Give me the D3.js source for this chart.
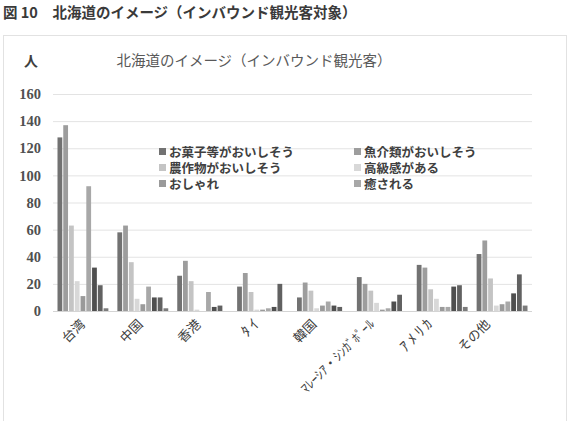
<!DOCTYPE html>
<html lang="ja">
  <head>
    <meta charset="UTF-8" />
    <title>北海道のイメージ</title>
    <style>
      body { margin: 0; background: #fff; }
      svg { display: block; }
    </style>
  </head>
  <body>
    <div id="wrapper"></div>
    <script src="https://d3js.org/d3.v7.min.js"></script>
    <script>
      // categories (x axis)
      const regions = ["台湾", "中国", "香港", "ﾀ ｲ", "韓国", "ﾏﾚｰｼｱ・ｼﾝｶﾞﾎﾟｰﾙ", "ｱ ﾒ ﾘ ｶ", "その他"];
      // legend labels (only six are shown in the original legend)
      const legendLabels = ["お菓子等がおいしそう", "魚介類がおいしそう", "農作物がおいしそう", "高級感がある", "おしゃれ", "癒される"];
      // series values, one array per series, in region order
      const s1 = [128, 58, 26, 18, 10, 25, 34, 42];
      const s2 = [137, 63, 37, 28, 21, 20, 32, 52];
      const s3 = [63, 36, 22, 14, 15, 15, 16, 24];
      const s4 = [22, 9, 1, 1, 2, 6, 9, 4];
      const s5 = [11, 5, 0, 1, 4, 1, 3, 5];
      const s6 = [92, 18, 14, 2, 7, 2, 3, 7];
      const s7 = [32, 10, 3, 3, 4, 7, 18, 13];
      const s8 = [19, 10, 4, 20, 3, 12, 19, 27];
      const s9 = [2, 2, 0, 0, 0, 0, 3, 4];
      const yTicks = [0, 20, 40, 60, 80, 100, 120, 140, 160];

      const series = [s1, s2, s3, s4, s5, s6, s7, s8, s9];
      const colors = ["#727272", "#9d9d9d", "#c4c4c4", "#d8d8d8", "#9a9a9a", "#a8a8a8", "#4f4f4f", "#616161", "#7c7c7c"];

      const W = 572, H = 421;
      const svg = d3.select("#wrapper").append("svg")
        .attr("width", W).attr("height", H);

      // caption
      svg.append("text")
        .attr("x", 3).attr("y", 18)
        .attr("font-family", "Noto Sans CJK JP")
        .attr("font-size", 14.5)
        .attr("font-weight", 700)
        .attr("fill", "#3a3a3a")
        .text("図 10　北海道のイメージ（インバウンド観光客対象）");

      // chart frame
      svg.append("rect")
        .attr("x", 3.5).attr("y", 35.5)
        .attr("width", 563).attr("height", 400)
        .attr("fill", "none").attr("stroke", "#e2e2e2");

      svg.append("text")
        .attr("x", 24).attr("y", 66)
        .attr("font-family", "Noto Sans CJK JP")
        .attr("font-size", 14)
        .attr("font-weight", 700)
        .attr("fill", "#404040")
        .text("人");

      svg.append("text")
        .attr("x", 254).attr("y", 66)
        .attr("text-anchor", "middle")
        .attr("font-family", "Noto Sans CJK JP")
        .attr("font-size", 14.5)
        .attr("fill", "#595959")
        .text("北海道のイメージ（インバウンド観光客）");

      const plotLeft = 53, plotRight = 532, plotTop = 94, plotBottom = 311;

      const y = d3.scaleLinear().domain([0, 160]).range([plotBottom, plotTop]);
      const x0 = d3.scaleBand().domain(regions).range([plotLeft, plotRight]).padding(0);
      const x1 = d3.scaleBand().domain(d3.range(series.length))
        .range([4.5, x0.bandwidth() - 4.5]).paddingInner(0.17).paddingOuter(0);

      // gridlines
      svg.append("g").selectAll("line")
        .data(yTicks.slice(1))
        .join("line")
        .attr("x1", plotLeft).attr("x2", plotRight)
        .attr("y1", d => y(d) + 0.5).attr("y2", d => y(d) + 0.5)
        .attr("stroke", "#e3e3e3");

      // y axis labels
      const yAxis = svg.append("g")
        .attr("transform", "translate(" + (plotLeft - 12) + ",0)")
        .call(d3.axisLeft(y).tickValues(yTicks).tickSize(0).tickPadding(0));
      yAxis.select(".domain").remove();
      yAxis.selectAll("text")
        .attr("font-family", "Liberation Serif")
        .attr("font-size", 14.5)
        .attr("font-weight", 700)
        .attr("fill", "#505050");

      // bars
      const groups = svg.append("g").selectAll("g")
        .data(regions)
        .join("g")
        .attr("transform", d => "translate(" + x0(d) + ",0)");

      groups.selectAll("rect")
        .data((d, i) => series.map((s, k) => ({ k: k, v: s[i] })))
        .join("rect")
        .attr("x", d => x1(d.k))
        .attr("width", x1.bandwidth())
        .attr("y", d => y(d.v))
        .attr("height", d => y(0) - y(d.v))
        .attr("fill", d => colors[d.k]);

      // baseline
      svg.append("line")
        .attr("x1", plotLeft).attr("x2", plotRight)
        .attr("y1", plotBottom + 0.5).attr("y2", plotBottom + 0.5)
        .attr("stroke", "#d4d4d4");

      // x axis labels (rotated); the original labels drift slightly left across the axis
      const xAxis = svg.append("g")
        .attr("transform", "translate(0," + plotBottom + ")")
        .call(d3.axisBottom(x0).tickSize(0).tickPadding(0));
      xAxis.select(".domain").remove();
      xAxis.selectAll("text")
        .attr("font-family", "Noto Sans CJK JP")
        .attr("font-size", d => d.startsWith("ﾏ") ? 13 : (d.startsWith("ﾀ") || d.startsWith("ｱ")) ? 14.5 : 13)
        .attr("fill", "#404040")
        .attr("text-anchor", "end")
        .attr("dy", 0)
        .attr("transform", (d, i) => "translate(" + (3 - 2 * i) + ",14) rotate(-45)");

      // legend
      const legend = svg.append("g");
      const item = legend.selectAll("g")
        .data(legendLabels)
        .join("g")
        .attr("transform", (d, i) => "translate(" + (159 + (i % 2) * 195) + "," + (152 + Math.floor(i / 2) * 16) + ")");
      item.append("rect")
        .attr("x", 0).attr("y", -4)
        .attr("width", 7).attr("height", 7)
        .attr("fill", (d, i) => colors[i]);
      item.append("text")
        .attr("x", 10).attr("y", 0)
        .attr("dy", "0.36em")
        .attr("font-family", "Noto Sans CJK JP")
        .attr("font-size", 12.5)
        .attr("font-weight", 700)
        .attr("fill", "#404040")
        .text(d => d);
    </script>
  </body>
</html>
